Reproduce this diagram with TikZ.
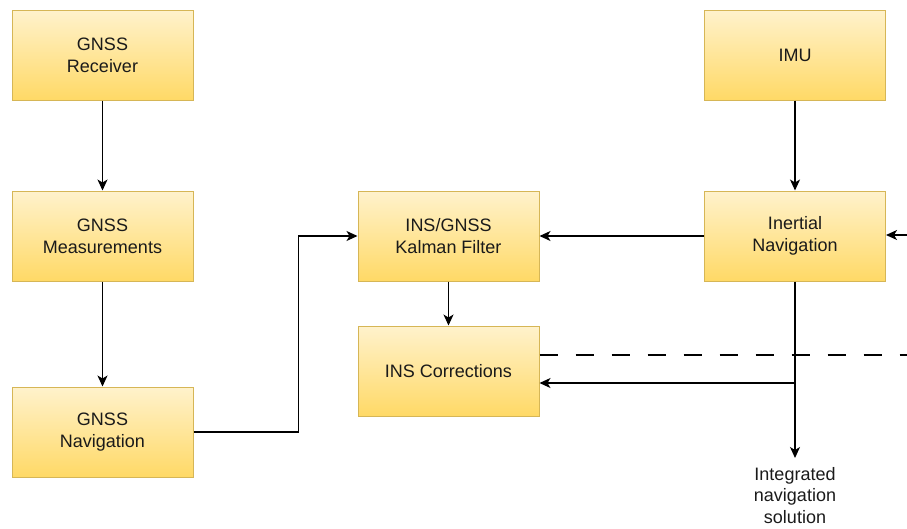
\documentclass[tikz,border=0pt]{standalone}
\usepackage{fontspec}
\setmainfont{Liberation Sans}
\usetikzlibrary{arrows.meta}
\definecolor{boxtop}{HTML}{FFF2CC}
\definecolor{boxbot}{HTML}{FFD966}
\definecolor{boxline}{HTML}{D6B656}
\definecolor{txt}{HTML}{1A1A1A}
\begin{document}
\begin{tikzpicture}[x=1pt,y=-1pt,
  box/.style={draw=boxline, line width=1pt, top color=boxtop, bottom color=boxbot,
    minimum width=181pt, minimum height=90pt, align=center, inner sep=0pt,
    font=\fontsize{18pt}{21.6pt}\selectfont, text=txt},
  arr/.style={draw=black, line width=1.3pt, -{Stealth[length=11pt,width=10pt,inset=3pt]}},
  lbl/.style={align=center, font=\fontsize{18pt}{21.5pt}\selectfont, text=txt, inner sep=0pt}
]
\useasboundingbox (0,0) rectangle (907,528);
\node[box] (rcv)  at (102.5,55)  {GNSS\\Receiver};
\node[box] (meas) at (102.5,236) {GNSS\\Measurements};
\node[box] (gnav) at (102.5,432) {GNSS\\Navigation};
\node[box] (kf)   at (448.5,236) {INS/GNSS\\Kalman Filter};
\node[box] (corr) at (448.5,371) {INS Corrections};
\node[box] (imu)  at (795,55)    {IMU};
\node[box] (inav) at (795,236)   {Inertial\\Navigation};
\node[lbl, anchor=north] (sol) at (795,467) {Integrated\\navigation\\solution};
\coordinate (j) at (795,383);
\coordinate (dend) at (907,355);
\coordinate (rin) at (907,235);

\draw[arr] (rcv) -- (meas);
\draw[arr] (meas) -- (gnav);
\draw[arr] (gnav.east) -- ++(105,0) |- (kf.west);
\draw[arr] (inav) -- (kf);
\draw[arr] (kf) -- (corr);
\draw[arr] (imu) -- (inav);
\draw[arr] (inav.south) -- ([yshift=9pt]sol.north);
\draw[arr] (j) -- (j -| corr.east);
\draw[line width=1.3pt, dash pattern=on 18pt off 18pt] (dend -| corr.east) -- (dend);
\draw[arr] (rin) -- (rin -| inav.east);
\end{tikzpicture}
\end{document}
